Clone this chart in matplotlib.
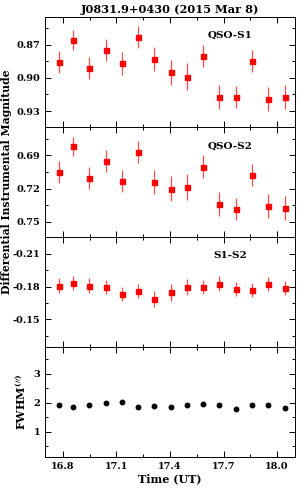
import matplotlib
matplotlib.use("Agg")
import matplotlib.pyplot as plt
from matplotlib.ticker import MultipleLocator
import numpy as np

plt.rcParams['font.family'] = 'DejaVu Serif'
plt.rcParams['font.weight'] = 'bold'
plt.rcParams['mathtext.fontset'] = 'dejavuserif'
plt.rcParams['mathtext.default'] = 'bf'

# time of each frame (UT hours)
temps = [16.776, 16.859, 16.949, 17.040, 17.131, 17.223, 17.312, 17.404,
         17.495, 17.586, 17.676, 17.769, 17.860, 17.949, 18.043]

qso_s1 = [0.886, 0.866, 0.891, 0.875, 0.887, 0.863, 0.883, 0.895,
          0.899, 0.880, 0.917, 0.917, 0.885, 0.919, 0.917]
err_s1 = [0.010, 0.009, 0.010, 0.010, 0.010, 0.010, 0.011, 0.011,
          0.012, 0.010, 0.011, 0.010, 0.010, 0.011, 0.011]

qso_s2 = [0.7048, 0.6818, 0.710, 0.6949, 0.7131, 0.687, 0.714, 0.720,
          0.7188, 0.700, 0.734, 0.7388, 0.708, 0.736, 0.7376]
err_s2 = [0.010, 0.009, 0.010, 0.010, 0.010, 0.010, 0.011, 0.011,
          0.012, 0.010, 0.011, 0.010, 0.010, 0.011, 0.011]

s1_s2 = [-0.181, -0.1836, -0.181, -0.180, -0.1736, -0.1757, -0.1688, -0.1748,
         -0.1797, -0.1797, -0.1827, -0.178, -0.1767, -0.1827, -0.1785]
err_s12 = [0.0065, 0.0065, 0.0065, 0.0065, 0.0065, 0.0065, 0.0075, 0.0075,
           0.0075, 0.0065, 0.0070, 0.0065, 0.0065, 0.0065, 0.0065]

fwhm = [1.91, 1.84, 1.92, 1.98, 2.01, 1.86, 1.89, 1.87,
        1.92, 1.96, 1.92, 1.77, 1.93, 1.92, 1.83]

fig = plt.figure(figsize=(3.0, 4.91), dpi=100)
gauche, largeur, haut = 0.15, 0.833, 0.2245
bas = [0.7410, 0.5165, 0.2925, 0.0692]
axes = [fig.add_axes([gauche, b, largeur, haut]) for b in bas]

panneaux = [(qso_s1, err_s1, "QSO-S1", (0.9445, 0.845), [0.87, 0.90, 0.93]),
            (qso_s2, err_s2, "QSO-S2", (0.7643, 0.6643), [0.69, 0.72, 0.75]),
            (s1_s2, err_s12, "S1-S2", (-0.1245, -0.2252), [-0.21, -0.18, -0.15])]

for ax, (y, e, nom, lim, ticks) in zip(axes[:3], panneaux):
    ax.errorbar(temps, y, yerr=e, fmt="none", ecolor=(1, 0.3, 0.3), elinewidth=0.9, capsize=0)
    ax.plot(temps, y, linestyle="None", marker="s", color="red", markersize=3.6)
    ax.set_ylim(*lim)
    ax.set_yticks(ticks)
    ax.set_yticklabels(["%.2f" % t for t in ticks])
    ax.yaxis.set_minor_locator(MultipleLocator(0.015))
    ax.text(0.74, 0.83, nom, transform=ax.transAxes, ha="center", va="center",
            fontsize=7.5, fontweight="bold")

ax4 = axes[3]
ax4.plot(temps, fwhm, linestyle="None", marker="o", color="black", markersize=3.2)
ax4.set_ylim(0.13, 3.93)
ax4.set_yticks([1, 2, 3])
ax4.yaxis.set_minor_locator(MultipleLocator(0.5))
ax4.set_ylabel(r"FWHM$^{(\prime\prime)}$", fontsize=8, fontweight="bold", labelpad=4)
ax4.set_xlabel("Time (UT)", fontsize=8, fontweight="bold", labelpad=2)

for ax in axes:
    ax.set_xlim(16.7, 18.1)
    ax.set_xticks([16.8, 17.1, 17.4, 17.7, 18.0])
    ax.xaxis.set_minor_locator(MultipleLocator(0.15))
    ax.tick_params(which="both", direction="in", top=True, right=True, labelsize=7, width=0.7)
    ax.tick_params(which="major", length=4)
    ax.tick_params(which="minor", length=2.2)
    for s in ax.spines.values():
        s.set_linewidth(0.7)
    if ax is not ax4:
        ax.set_xticklabels([])
ax4.set_xticklabels(["16.8", "17.1", "17.4", "17.7", "18.0"])

axes[0].set_title("J0831.9+0430 (2015 Mar 8)", fontsize=8.2, fontweight="bold", pad=3)
fig.text(0.022, 0.629, "Differential Instrumental Magnitude", rotation=90,
         ha="center", va="center", fontsize=7.8, fontweight="bold")

fig.savefig("out.png", dpi=100)
